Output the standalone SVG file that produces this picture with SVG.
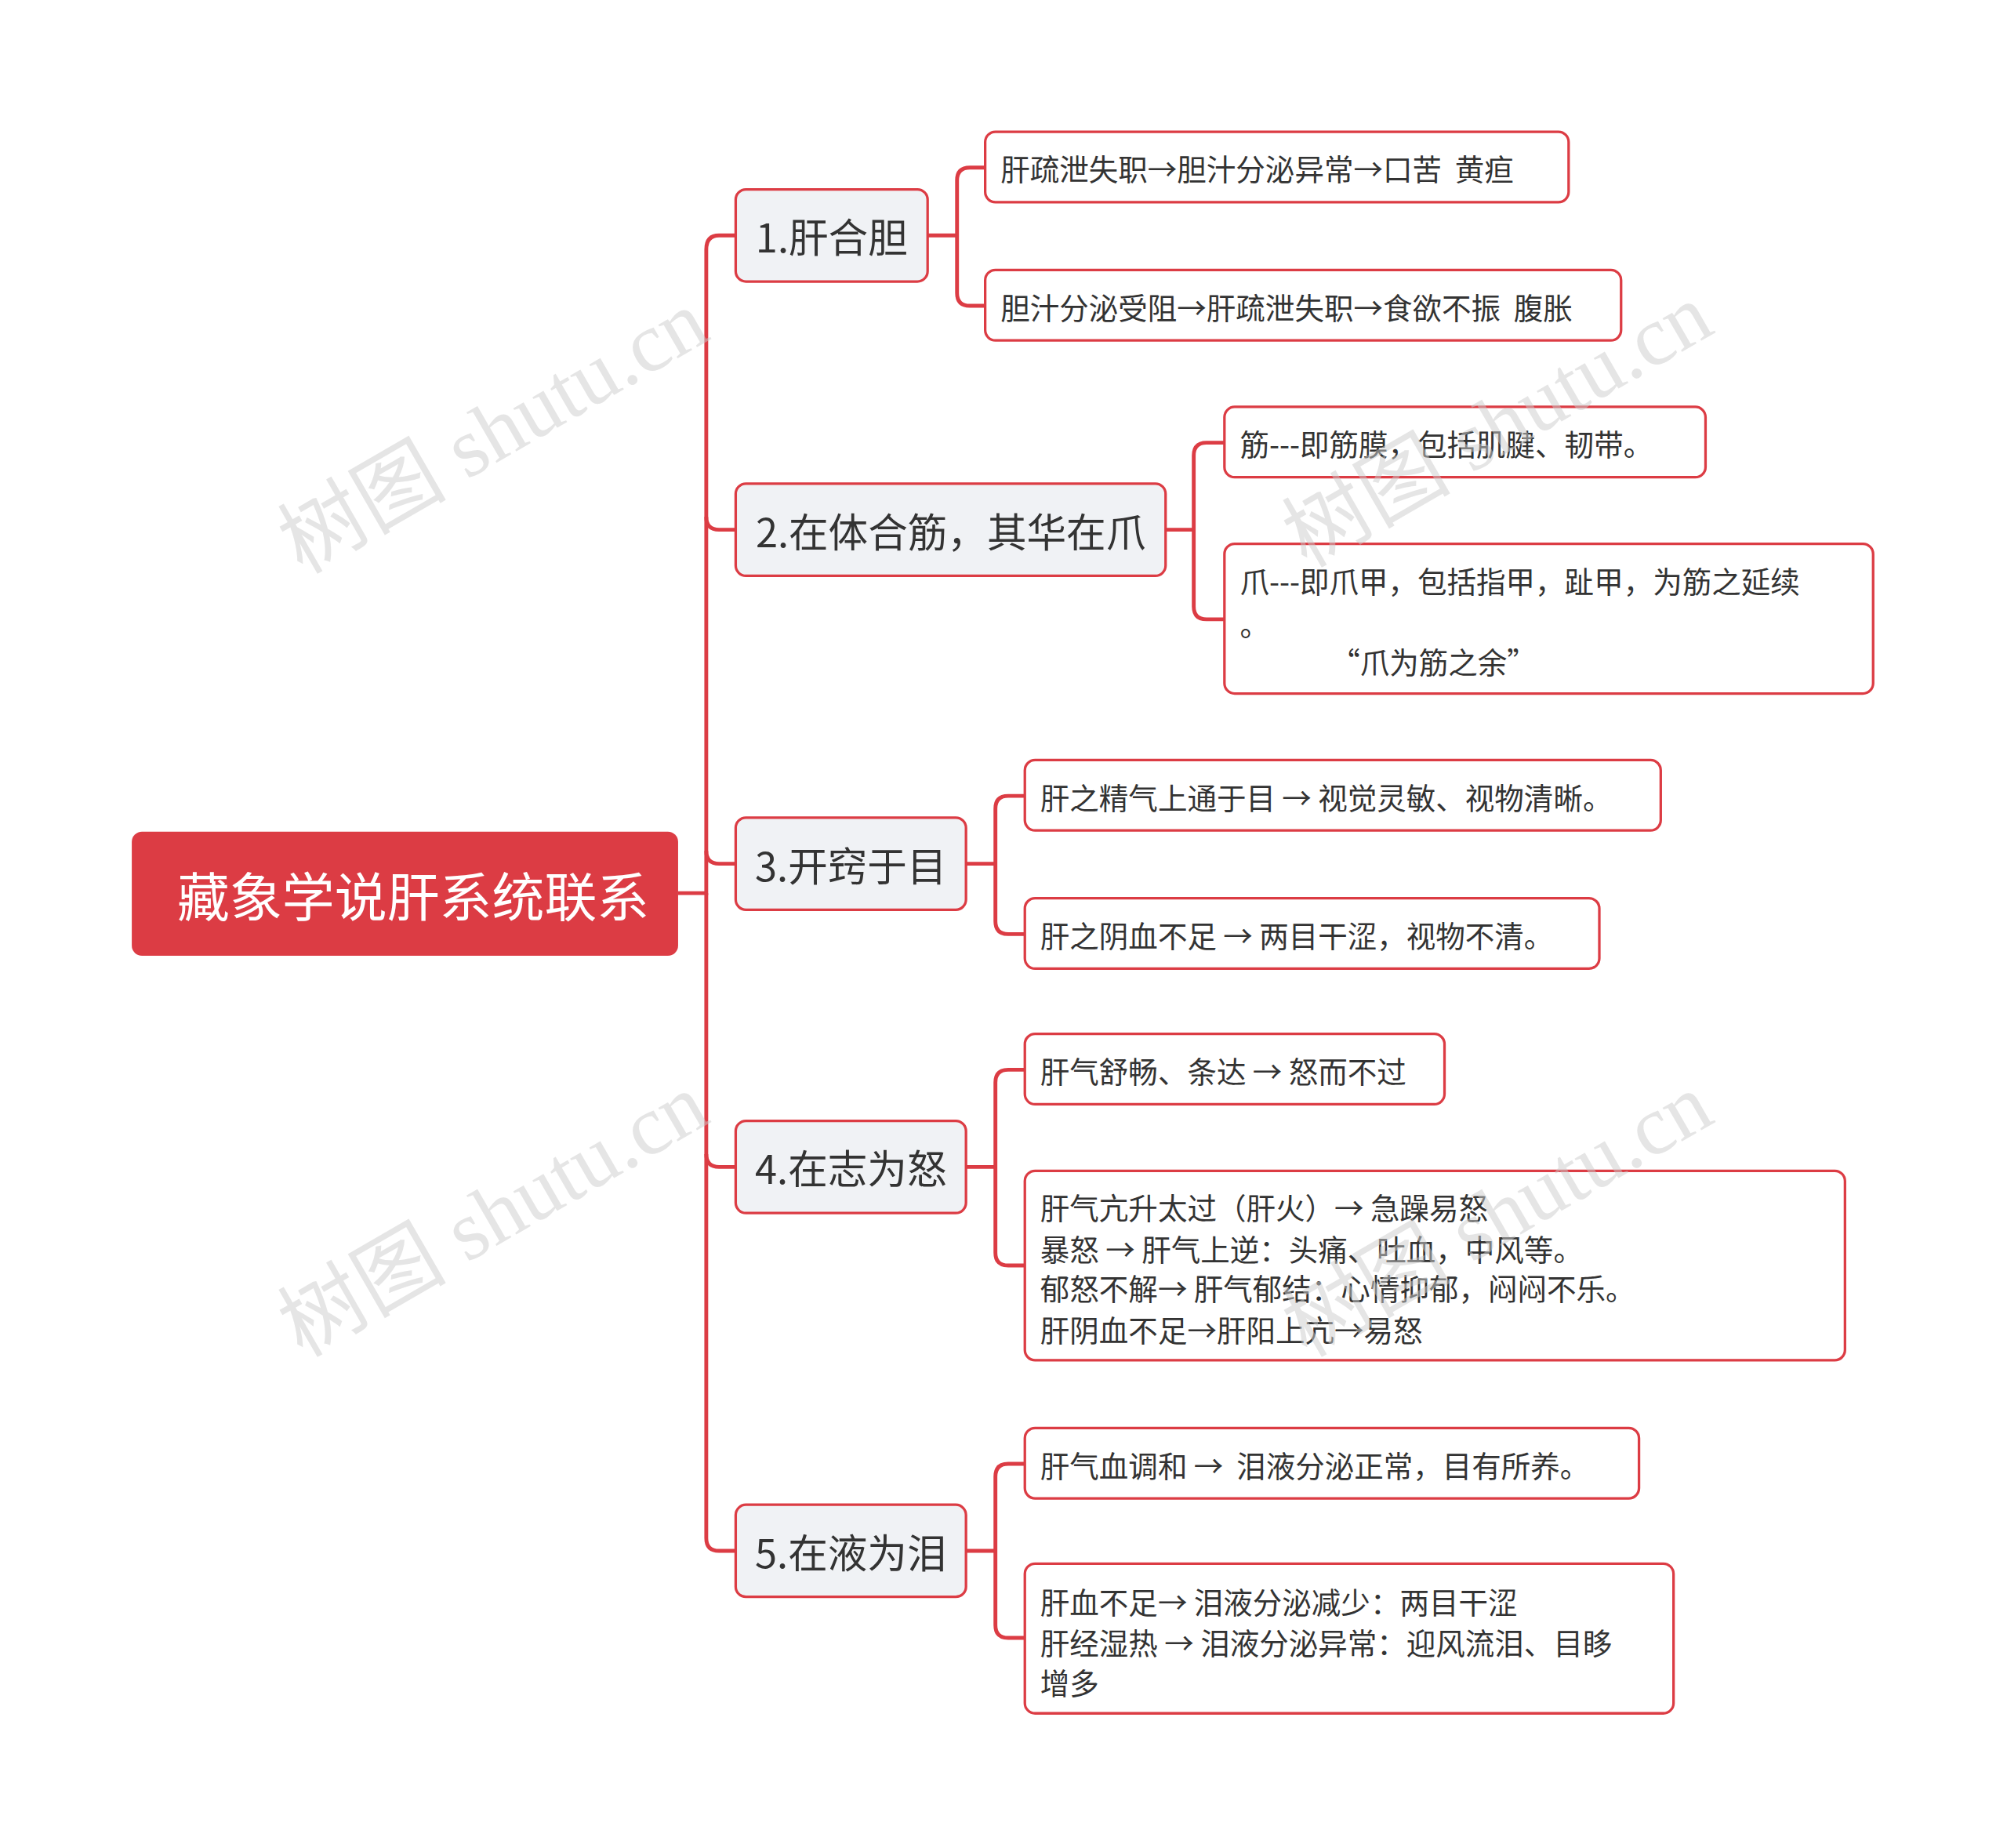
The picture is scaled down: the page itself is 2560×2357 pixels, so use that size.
<svg xmlns="http://www.w3.org/2000/svg" width="2560" height="2357" viewBox="0 0 2560 2357">
<style>
.c{fill:none;stroke:#dc3c44;stroke-width:3}
.n1{fill:#f0f2f5;stroke:#dc3c44;stroke-width:2}
.lf{fill:#fff;stroke:#dc3c44;stroke-width:2}
text{font-family:"Noto Sans CJK SC","Liberation Sans",sans-serif;fill:#333;dominant-baseline:central}
.t1{font-size:31px}
.t2{font-size:23px}
.wm{font-size:66px;fill:#ccc;opacity:0.5;font-family:"Liberation Serif","Noto Sans CJK SC",serif}
</style>
<rect width="2560" height="2357" fill="#fff"/>
<g transform="scale(1.632)">
<g id="connectors">
<path class="c" d="M530,698 H552 V195 Q552,184 562,184 H575"/>
<path class="c" d="M552,404 Q552,414 562,414 H575"/>
<path class="c" d="M552,665 Q552,675 562,675 H575"/>
<path class="c" d="M552,698 V1202 Q552,1212 562,1212 H575"/>
<path class="c" d="M552,902 Q552,912 562,912 H575"/>
<path class="c" d="M725,184 H748 V141 Q748,131 758,131 H770 M748,184 V229 Q748,239 758,239 H770"/>
<path class="c" d="M911,414 H933 V356 Q933,346 943,346 H957 M933,414 V474 Q933,484 943,484 H957"/>
<path class="c" d="M755,675 H778 V632 Q778,622 788,622 H801 M778,675 V720 Q778,730 788,730 H801"/>
<path class="c" d="M755,912 H778 V846 Q778,836 788,836 H801 M778,912 V979 Q778,989 788,989 H801"/>
<path class="c" d="M755,1212 H778 V1154 Q778,1144 788,1144 H801 M778,1212 V1270 Q778,1280 788,1280 H801"/>
</g>
<g id="root"><rect x="103" y="650" width="427" height="97" rx="8" fill="#dc3c44"/><text x="323" y="698" font-size="41" text-anchor="middle" style="fill:#fff">藏象学说肝系统联系</text></g>
<g id="n1"><rect class="n1" x="575" y="148" width="150" height="72" rx="8"/><text class="t1" x="650" y="184" text-anchor="middle">1.肝合胆</text></g>
<g id="n2"><rect class="n1" x="575" y="378" width="336" height="72" rx="8"/><text class="t1" x="743" y="414" text-anchor="middle">2.在体合筋，其华在爪</text></g>
<g id="n3"><rect class="n1" x="575" y="639" width="180" height="72" rx="8"/><text class="t1" x="665" y="675" text-anchor="middle">3.开窍于目</text></g>
<g id="n4"><rect class="n1" x="575" y="876" width="180" height="72" rx="8"/><text class="t1" x="665" y="912" text-anchor="middle">4.在志为怒</text></g>
<g id="n5"><rect class="n1" x="575" y="1176" width="180" height="72" rx="8"/><text class="t1" x="665" y="1212" text-anchor="middle">5.在液为泪</text></g>
<g id="l1a"><rect class="lf" x="770" y="103" width="456" height="55" rx="8"/><text class="t2" x="782" y="131" xml:space="preserve">肝疏泄失职→胆汁分泌异常→口苦  黄疸</text></g>
<g id="l1b"><rect class="lf" x="770" y="211" width="497" height="55" rx="8"/><text class="t2" x="782" y="239" xml:space="preserve">胆汁分泌受阻→肝疏泄失职→食欲不振  腹胀</text></g>
<g id="l2a"><rect class="lf" x="957" y="318" width="376" height="55" rx="8"/><text class="t2" x="969" y="346">筋---即筋膜，包括肌腱、韧带。</text></g>
<g id="l2b"><rect class="lf" x="957" y="425" width="507" height="117" rx="8"/><text class="t2" x="969" y="453">爪---即爪甲，包括指甲，趾甲，为筋之延续</text><text class="t2" x="969" y="487">。</text><text class="t2" x="1040" y="516">“爪为筋之余”</text></g>
<g id="l3a"><rect class="lf" x="801" y="594" width="497" height="55" rx="8"/><text class="t2" x="813" y="622">肝之精气上通于目 → 视觉灵敏、视物清晰。</text></g>
<g id="l3b"><rect class="lf" x="801" y="702" width="449" height="55" rx="8"/><text class="t2" x="813" y="730">肝之阴血不足 → 两目干涩，视物不清。</text></g>
<g id="l4a"><rect class="lf" x="801" y="808" width="328" height="55" rx="8"/><text class="t2" x="813" y="836">肝气舒畅、条达 → 怒而不过</text></g>
<g id="l4b"><rect class="lf" x="801" y="915" width="641" height="148" rx="8"/><text class="t2" x="813" y="943">肝气亢升太过（肝火）→ 急躁易怒</text><text class="t2" x="813" y="975">暴怒 → 肝气上逆：头痛、吐血，中风等。</text><text class="t2" x="813" y="1006">郁怒不解→ 肝气郁结：心情抑郁，闷闷不乐。</text><text class="t2" x="813" y="1038">肝阴血不足→肝阳上亢→易怒</text></g>
<g id="l5a"><rect class="lf" x="801" y="1116" width="480" height="55" rx="8"/><text class="t2" x="813" y="1144" xml:space="preserve">肝气血调和 →  泪液分泌正常，目有所养。</text></g>
<g id="l5b"><rect class="lf" x="801" y="1222" width="507" height="117" rx="8"/><text class="t2" x="813" y="1251">肝血不足→ 泪液分泌减少：两目干涩</text><text class="t2" x="813" y="1283">肝经湿热 → 泪液分泌异常：迎风流泪、目眵</text><text class="t2" x="813" y="1314">增多</text></g>
<g id="watermarks">
<text class="wm" transform="translate(225,430) rotate(-30)">树图 shutu.cn</text>
<text class="wm" transform="translate(1010,425) rotate(-30)">树图 shutu.cn</text>
<text class="wm" transform="translate(225,1042) rotate(-30)">树图 shutu.cn</text>
<text class="wm" transform="translate(1010,1042) rotate(-30)">树图 shutu.cn</text>
</g>
</g>
</svg>
